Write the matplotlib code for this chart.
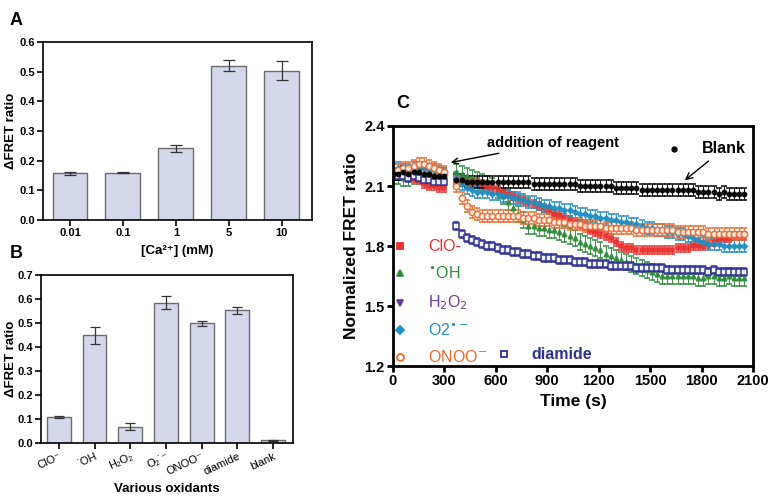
import matplotlib
matplotlib.use("Agg")
import matplotlib.pyplot as plt

plt.rcParams['font.family'] = ['Liberation Sans', 'DejaVu Sans']

# Panel A data
ca_labels = ["0.01", "0.1", "1", "5", "10"]
ca_values = [0.157, 0.160, 0.242, 0.521, 0.504]
ca_errors = [0.005, 0.001, 0.012, 0.017, 0.032]

# Panel B data
ox_labels = ["ClO⁻", "˙OH", "H₂O₂", "O₂˙⁻", "ONOO⁻", "diamide", "blank"]
ox_values = [0.108, 0.448, 0.068, 0.585, 0.498, 0.553, 0.012]
ox_errors = [0.005, 0.035, 0.015, 0.027, 0.010, 0.015, 0.002]

# Panel C data: time course (pre-addition then post-addition)
time_s = [0, 30, 60, 90, 120, 150, 180, 210, 240, 270, 300,
          370, 400, 430, 460, 490, 520, 550, 580, 610, 640,
          670, 700, 730, 760, 790, 820, 850, 880, 910, 940,
          970, 1000, 1030, 1060, 1090, 1120, 1150, 1180, 1210, 1240,
          1270, 1300, 1330, 1360, 1390, 1420, 1450, 1480, 1510, 1540,
          1570, 1600, 1630, 1660, 1690, 1720, 1750, 1780, 1810, 1840,
          1870, 1900, 1930, 1960, 1990, 2020, 2050]

oh_ratio = [2.15, 2.15, 2.14, 2.14, 2.15, 2.16, 2.16, 2.16, 2.15, 2.15, 2.15,
            2.17, 2.16, 2.15, 2.14, 2.13, 2.12, 2.11, 2.10, 2.08, 2.05,
            2.02, 1.99, 1.96, 1.93, 1.90, 1.90, 1.89, 1.89, 1.88, 1.88,
            1.87, 1.86, 1.85, 1.84, 1.82, 1.81, 1.80, 1.79, 1.78, 1.76,
            1.75, 1.74, 1.73, 1.72, 1.71, 1.70, 1.69, 1.68, 1.67, 1.66,
            1.65, 1.65, 1.65, 1.65, 1.65, 1.65, 1.65, 1.64, 1.64, 1.65,
            1.65, 1.64, 1.64, 1.65, 1.64, 1.64, 1.64]

clo_ratio = [2.16, 2.16, 2.15, 2.15, 2.14, 2.13, 2.11, 2.10, 2.10, 2.09, 2.09,
             2.13, 2.13, 2.12, 2.12, 2.12, 2.11, 2.10, 2.09, 2.08, 2.07,
             2.06, 2.05, 2.04, 2.03, 2.02, 2.01, 2.00, 1.99, 1.98, 1.96,
             1.95, 1.94, 1.93, 1.92, 1.91, 1.90, 1.88, 1.87, 1.86, 1.85,
             1.84, 1.82, 1.80, 1.79, 1.79, 1.78, 1.78, 1.78, 1.78, 1.78,
             1.78, 1.78, 1.78, 1.79, 1.79, 1.79, 1.80, 1.80, 1.80, 1.81,
             1.82, 1.83, 1.84, 1.84, 1.85, 1.85, 1.85]

o2_ratio = [2.18, 2.19, 2.18, 2.18, 2.19, 2.19, 2.19, 2.18, 2.18, 2.17, 2.16,
            2.14, 2.11, 2.09, 2.08, 2.07, 2.07, 2.07, 2.06, 2.06, 2.05,
            2.05, 2.04, 2.04, 2.03, 2.02, 2.02, 2.01, 2.00, 2.00, 1.99,
            1.99, 1.98, 1.98, 1.97, 1.96, 1.96, 1.95, 1.95, 1.94, 1.94,
            1.93, 1.93, 1.92, 1.92, 1.91, 1.91, 1.90, 1.89, 1.89, 1.88,
            1.88, 1.87, 1.87, 1.86, 1.86, 1.85, 1.84, 1.83, 1.82, 1.81,
            1.81, 1.81, 1.80, 1.80, 1.80, 1.80, 1.80]

onoo_ratio = [2.18, 2.18, 2.19, 2.19, 2.20, 2.21, 2.21, 2.20, 2.19, 2.18, 2.17,
              2.10, 2.04, 2.00, 1.97, 1.96, 1.95, 1.95, 1.95, 1.95, 1.95,
              1.95, 1.95, 1.95, 1.94, 1.94, 1.94, 1.93, 1.93, 1.93, 1.92,
              1.92, 1.92, 1.91, 1.91, 1.91, 1.90, 1.90, 1.90, 1.90, 1.89,
              1.89, 1.89, 1.89, 1.89, 1.89, 1.88, 1.88, 1.88, 1.88, 1.88,
              1.88, 1.88, 1.88, 1.87, 1.87, 1.87, 1.87, 1.87, 1.87, 1.86,
              1.86, 1.86, 1.86, 1.86, 1.86, 1.86, 1.86]

diamide_ratio = [2.15, 2.15, 2.15, 2.14, 2.15, 2.14, 2.13, 2.13, 2.12, 2.12, 2.12,
                 1.90, 1.86, 1.84, 1.83, 1.82, 1.81, 1.80, 1.80, 1.79, 1.78,
                 1.78, 1.77, 1.77, 1.76, 1.76, 1.75, 1.75, 1.74, 1.74, 1.74,
                 1.73, 1.73, 1.73, 1.72, 1.72, 1.72, 1.71, 1.71, 1.71, 1.71,
                 1.70, 1.70, 1.70, 1.70, 1.70, 1.69, 1.69, 1.69, 1.69, 1.69,
                 1.69, 1.68, 1.68, 1.68, 1.68, 1.68, 1.68, 1.68, 1.68, 1.67,
                 1.68, 1.67, 1.67, 1.67, 1.67, 1.67, 1.67]

blank_ratio = [2.16, 2.16, 2.17, 2.16, 2.17, 2.17, 2.16, 2.16, 2.15, 2.15, 2.15,
               2.13, 2.13, 2.12, 2.12, 2.12, 2.12, 2.12, 2.12, 2.12, 2.12,
               2.12, 2.12, 2.12, 2.12, 2.12, 2.11, 2.11, 2.11, 2.11, 2.11,
               2.11, 2.11, 2.11, 2.11, 2.10, 2.10, 2.10, 2.10, 2.10, 2.10,
               2.10, 2.09, 2.09, 2.09, 2.09, 2.09, 2.08, 2.08, 2.08, 2.08,
               2.08, 2.08, 2.08, 2.08, 2.08, 2.08, 2.08, 2.07, 2.07, 2.07,
               2.07, 2.06, 2.07, 2.06, 2.06, 2.06, 2.06]

# error size per series
series_err = {"oh": 0.04, "clo": 0.02, "o2": 0.03, "onoo": 0.03, "diamide": 0.022, "blank": 0.03}

bar_color = "#d5d8ea"
bar_edge = "#6b6b6b"

fig = plt.figure(figsize=(7.72, 4.99), dpi=100)


def style_axis(ax, lw=1.5):
    for side in ["top", "right", "left", "bottom"]:
        ax.spines[side].set_linewidth(lw)
    ax.tick_params(direction="out", width=lw, length=4, pad=2)


# ---- Panel A ----
axA = fig.add_axes([0.0557, 0.559, 0.3484, 0.3567])
xa = list(range(len(ca_labels)))
axA.bar(xa, ca_values, width=0.66, color=bar_color, edgecolor=bar_edge, linewidth=1.0)
axA.errorbar(xa, ca_values, yerr=ca_errors, fmt="none", ecolor="#333333", elinewidth=0.9, capsize=4, capthick=0.9)
axA.set_xlim(-0.51, 4.57)
axA.set_ylim(0, 0.6)
axA.set_yticks([0.0, 0.1, 0.2, 0.3, 0.4, 0.5, 0.6])
axA.set_xticks(xa)
axA.set_xticklabels(ca_labels, fontsize=8, fontweight="bold")
for lab in axA.get_yticklabels():
    lab.set_fontsize(8)
    lab.set_fontweight("bold")
style_axis(axA, 1.2)
axA.set_ylabel("ΔFRET ratio", fontsize=9.5, fontweight="bold")
axA.yaxis.set_label_coords(-0.097, 0.5)
axA.set_xlabel("[Ca²⁺] (mM)", fontsize=9.5, fontweight="bold", labelpad=5)
fig.text(0.012, 0.975, "A", fontsize=13, fontweight="bold", va="top")

# ---- Panel B ----
axB = fig.add_axes([0.0531, 0.1122, 0.3264, 0.3367])
xb = list(range(len(ox_labels)))
axB.bar(xb, ox_values, width=0.67, color=bar_color, edgecolor=bar_edge, linewidth=1.0)
axB.errorbar(xb, ox_values, yerr=ox_errors, fmt="none", ecolor="#333333", elinewidth=0.9, capsize=3.5, capthick=0.9)
axB.set_xlim(-0.5, 6.56)
axB.set_ylim(0, 0.7)
axB.set_yticks([0.0, 0.1, 0.2, 0.3, 0.4, 0.5, 0.6, 0.7])
axB.set_xticks(xb)
style_axis(axB, 1.2)
axB.set_xticklabels(ox_labels, fontsize=8, rotation=25, ha="right", rotation_mode="anchor")
for lab in axB.get_yticklabels():
    lab.set_fontsize(8)
    lab.set_fontweight("bold")
axB.set_ylabel("ΔFRET ratio", fontsize=9.5, fontweight="bold")
axB.yaxis.set_label_coords(-0.095, 0.5)
axB.set_xlabel("Various oxidants", fontsize=9.5, fontweight="bold", labelpad=4)
fig.text(0.012, 0.51, "B", fontsize=13, fontweight="bold", va="top")

# ---- Panel C ----
axC = fig.add_axes([0.509, 0.2665, 0.4663, 0.481])

series = [
    ("oh", oh_ratio, "#2e8b3a", "^", 3.2, True),
    ("clo", clo_ratio, "#e8312f", "s", 3.2, True),
    ("o2", o2_ratio, "#1f8fc4", "D", 2.8, True),
    ("onoo", onoo_ratio, "#ee6a2c", "o", 4.5, False),
    ("diamide", diamide_ratio, "#2e3192", "s", 4.2, False),
    ("blank", blank_ratio, "black", "o", 3.0, True),
]
for key, vals, col, mk, ms, filled in series:
    axC.errorbar(time_s, vals, yerr=series_err[key], fmt=mk, color=col, ms=ms,
                 mfc=col if filled else "white", mec=col, mew=1.2,
                 ecolor=col, elinewidth=0.8, capsize=2.5, capthick=0.8, alpha=0.9)

axC.set_xlim(0, 2100)
axC.set_ylim(1.2, 2.4)
axC.set_xticks([0, 300, 600, 900, 1200, 1500, 1800, 2100])
axC.set_yticks([1.2, 1.5, 1.8, 2.1, 2.4])
style_axis(axC, 2.0)
for lab in axC.get_xticklabels() + axC.get_yticklabels():
    lab.set_fontsize(10.5)
    lab.set_fontweight("bold")
axC.set_xlabel("Time (s)", fontsize=12.5, fontweight="bold")
axC.set_ylabel("Normalized FRET ratio", fontsize=12.5, fontweight="bold")
fig.text(0.513, 0.81, "C", fontsize=13, fontweight="bold", va="top")

# in-plot legend
legend_items = [
    ("ClO-", "#e8312f", "s", True, 1.80),
    ("$^{\\bullet}$OH", "#2e8b3a", "^", True, 1.665),
    ("H$_2$O$_2$", "#6a3d9a", "v", True, 1.517),
    ("O2$^{\\bullet-}$", "#1f8fc4", "D", True, 1.38),
    ("ONOO$^{-}$", "#ee6a2c", "o", False, 1.245),
]
for txt, col, mk, filled, yv in legend_items:
    axC.plot([40], [yv], marker=mk, color=col, ms=4 if mk != "o" else 5,
             mfc=col if filled else "white", mew=1.3, ls="none")
    axC.text(205, yv, txt, color=col, fontsize=11.5, va="center")
axC.plot([650], [1.26], marker="s", color="#2e3192", ms=5, mfc="white", mew=1.3, ls="none")
axC.text(810, 1.26, "diamide", color="#2e3192", fontsize=11.5, fontweight="bold", va="center")

axC.plot([1640], [2.285], marker="o", color="black", ms=3.5, ls="none")
axC.annotate("Blank", xy=(1690, 2.12), xytext=(1800, 2.285), fontsize=11.5, fontweight="bold",
             va="center", arrowprops=dict(arrowstyle="->", color="black", lw=1))
axC.annotate("addition of reagent", xy=(321, 2.215), xytext=(548, 2.315), fontsize=10.5, fontweight="bold",
             va="center", arrowprops=dict(arrowstyle="->", color="black", lw=1))

fig.savefig("out.png", dpi=100)
